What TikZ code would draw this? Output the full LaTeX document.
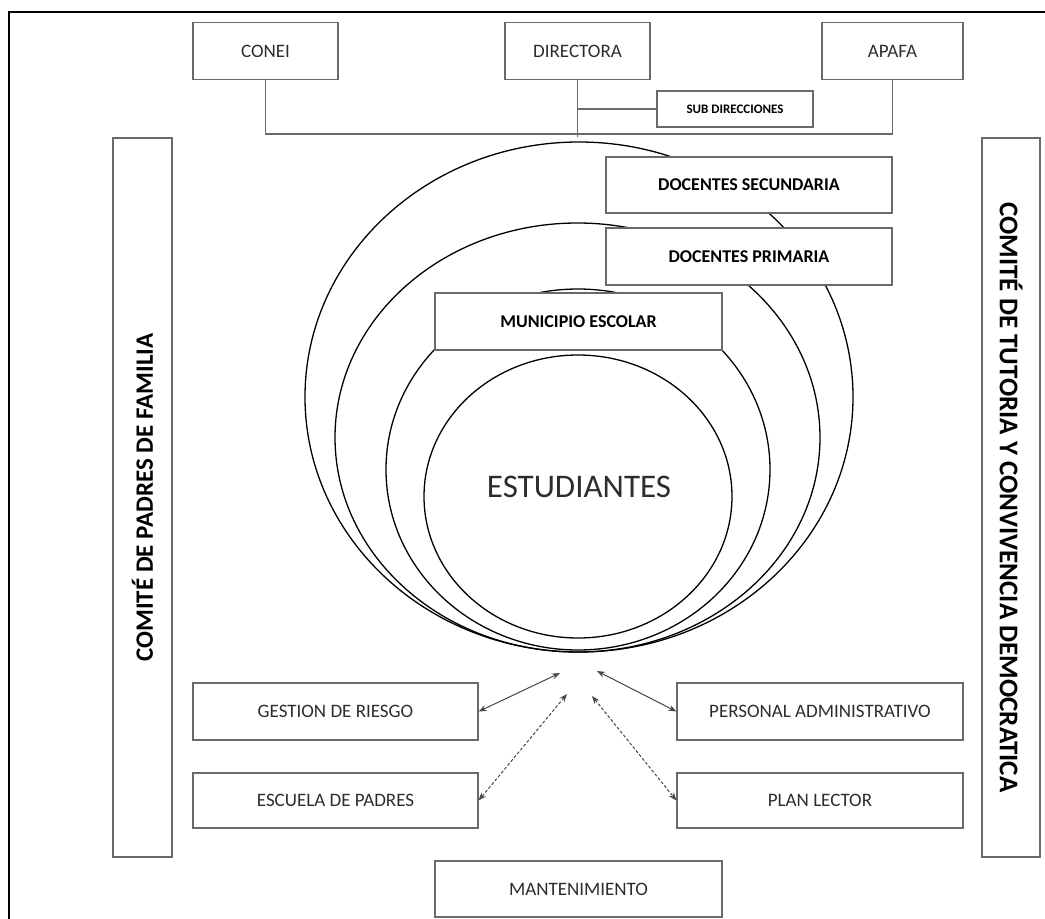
\documentclass[tikz,border=0pt]{standalone}
\usepackage{fontspec}
\setmainfont{Carlito}
\usetikzlibrary{arrows.meta}
\definecolor{boxgray}{RGB}{105,105,105}
\definecolor{txtgray}{RGB}{45,45,45}
\definecolor{arrgray}{RGB}{70,70,70}
\begin{document}
\begin{tikzpicture}[x=1pt,y=-1pt,
  box/.style={draw=boxgray,line width=1.2pt,fill=white,inner sep=0pt},
  reg/.style={text=txtgray,font=\fontsize{19}{22}\selectfont},
  bld/.style={text=black,font=\bfseries\fontsize{18}{22}\selectfont},
  conn/.style={draw=boxgray,line width=1.2pt},
  ring/.style={draw=black,line width=1.3pt},
  arr/.style={draw=arrgray,line width=1pt,{Stealth[length=8pt,width=6pt]}-{Stealth[length=8pt,width=6pt]}},
  dsh/.style={dash pattern=on 3pt off 2pt}]
\useasboundingbox (0,0) rectangle (1045,919);
% frame
\draw[line width=2pt] (9,919) -- (9,12) -- (1045,12);

% rings
\draw[ring] (579,397) ellipse [x radius=274pt, y radius=255pt];
\draw[ring] (577.5,437.5) ellipse [x radius=242.5pt, y radius=214.5pt];
\draw[ring] (578,469.5) ellipse [x radius=192pt, y radius=180.5pt];
\draw[ring] (578,496.5) ellipse [x radius=154pt, y radius=141.5pt];
\node[text=txtgray,font=\fontsize{33}{36}\selectfont] (estud) at (579,487) {ESTUDIANTES};

% top boxes
\node[box,reg,minimum width=145pt,minimum height=57pt] (conei) at (265.5,51) {CONEI};
\node[box,reg,minimum width=145pt,minimum height=57pt] (directora) at (577.5,51) {DIRECTORA};
\node[box,reg,minimum width=141pt,minimum height=57pt] (apafa) at (892.5,51) {APAFA};
\node[box,bld,font=\bfseries\fontsize{13}{15}\selectfont,minimum width=156pt,minimum height=36pt] (sub) at (735,109) {SUB DIRECCIONES};
\coordinate (bus) at (577.5,134);
\draw[conn] (conei.south) |- (bus) -| (apafa.south);
\draw[conn] (directora.south) -- ([yshift=-3pt]bus);
\draw[conn] (directora.south |- sub.west) -- (sub.west);

% ring labels
\node[box,bld,minimum width=286pt,minimum height=56pt] (docsec) at (749,185) {DOCENTES SECUNDARIA};
\node[box,bld,minimum width=286pt,minimum height=57pt] (docprim) at (749,256.5) {DOCENTES PRIMARIA};
\node[box,bld,minimum width=287pt,minimum height=57pt] (muni) at (578.5,321.5) {MUNICIPIO ESCOLAR};

% side committees
\node[box,bld,font=\bfseries\fontsize{25}{28}\selectfont,rotate=90,minimum width=719pt,minimum height=59pt] (cpf) at (142.5,497.5) {COMITÉ DE PADRES DE FAMILIA};
\node[box,bld,font=\bfseries\fontsize{27}{30}\selectfont,rotate=-90,minimum width=719pt,minimum height=58pt] (ctc) at (1011,497.5) {COMITÉ DE TUTORIA Y CONVIVENCIA DEMOCRATICA};

% bottom boxes
\node[box,reg,minimum width=285pt,minimum height=57pt] (gestion) at (335.5,711.5) {GESTION DE RIESGO};
\node[box,reg,minimum width=285pt,minimum height=55pt] (escuela) at (335.5,800.5) {ESCUELA DE PADRES};
\node[box,reg,minimum width=286pt,minimum height=57pt] (personal) at (820,711.5) {PERSONAL ADMINISTRATIVO};
\node[box,reg,minimum width=286pt,minimum height=55pt] (plan) at (820,800.5) {PLAN LECTOR};
\node[box,reg,minimum width=287pt,minimum height=56pt] (mant) at (578.5,889) {MANTENIMIENTO};

% arrows
\coordinate (a1) at (560,673);
\coordinate (a2) at (567,694);
\coordinate (a3) at (597,671);
\coordinate (a4) at (592,696);
\draw[arr] (a1) -- (gestion.east);
\draw[arr,dsh] (a2) -- (escuela.east);
\draw[arr] (a3) -- (personal.west);
\draw[arr,dsh] (a4) -- (plan.west);
\end{tikzpicture}
\end{document}
